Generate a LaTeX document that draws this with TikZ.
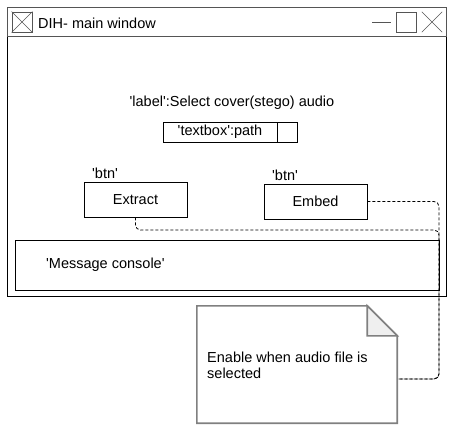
\documentclass[tikz,border=0pt]{standalone}
\usepackage{fontspec}
\setmainfont{Liberation Sans}
\usetikzlibrary{positioning}
\pgfdeclarelayer{bg}
\pgfsetlayers{bg,main}
\definecolor{frame}{HTML}{555555}
\definecolor{notegrey}{HTML}{808080}
\definecolor{foldfill}{HTML}{EFEFEF}
\newcommand{\uifont}{\fontsize{14.5pt}{16pt}\selectfont}
\newcommand{\sq}{\textquotesingle}
\tikzset{
  box/.style={draw, rectangle, inner sep=0pt, line width=0.9pt},
  txt/.style={inner sep=0pt, font=\uifont},
  link/.style={draw, dash pattern=on 3pt off 2pt, line width=0.8pt, rounded corners=5pt},
}

\begin{document}
\begin{tikzpicture}[x=1pt, y=-1pt]
        \useasboundingbox (0,0) rectangle (462,428);
        % main window
        \node (win) [box, draw=black, minimum width=439pt, minimum height=289pt] at (226.5,151.5) {};
        \node (bar) [box, draw=frame, minimum width=439pt, minimum height=29pt] at (226.5,21.5) {};
        \node (icon) [box, draw=frame, minimum size=20pt] at (22,22) {};
        \draw [frame] (icon.north west) -- (icon.south east) (icon.north east) -- (icon.south west);
        \node (title) [txt, anchor=west] at (38,23) {DIH- main window};
        \coordinate (minL) at (372,22);
        \coordinate (minR) at (391,22);
        \draw [frame, line width=0.9pt] (minL) -- (minR);
        \node (maxbox) [box, draw=frame, minimum size=20pt] at (406,22) {};
        \node (closebox) [inner sep=0pt, minimum size=20pt] at (432,22) {};
        \draw [frame] (closebox.north west) -- (closebox.south east) (closebox.north east) -- (closebox.south west);
        % cover selection
        \node (lbl) [txt] at (232,103) {\sq label\sq:Select cover(stego) audio};
        \node (path) [box, minimum width=114pt, minimum height=20pt, font=\uifont] at (220,132) {\sq textbox\sq:path};
        \node (browse) [box, minimum width=20pt, minimum height=20pt] at (287,132) {};
        % buttons
        \node (btnExtract) [box, minimum width=103pt, minimum height=35pt, font=\uifont] at (135.5,199.5) {Extract};
        \node (btnExtractTag) [txt, anchor=west] at (92,173) {\sq btn\sq};
        \node (btnEmbed) [box, minimum width=103pt, minimum height=35pt, font=\uifont] at (315.5,201.5) {Embed};
        \node (btnEmbedTag) [txt, anchor=west] at (272,175) {\sq btn\sq};
        % console
        \node (console) [box, minimum width=424pt, minimum height=50pt] at (227,265) {};
        \node (consoleTxt) [txt, anchor=west] at (46,265) {\sq Message console\sq};
        % note
        \node (note) [inner sep=0pt, minimum width=200pt, minimum height=117pt] at (297,364.5) {};
        \draw [notegrey, line width=1.6pt, fill=white] (note.north west) -- ([xshift=-30pt]note.north east) -- ([yshift=-30pt]note.north east) -- (note.south east) -- (note.south west) -- cycle;
        \draw [notegrey, line width=1.6pt, fill=foldfill] ([xshift=-30pt]note.north east) -- ([yshift=-30pt]note.north east) -- ([xshift=-30pt,yshift=-30pt]note.north east) -- cycle;
        \node (noteTxt) [txt, anchor=west, align=left] at (207,365) {Enable when audio file is\\selected};
        \coordinate (rail) at (439,230);
        \coordinate (noteIn) at (397,379);
        \begin{pgfonlayer}{bg}
                \draw [link] (btnExtract.south) |- (rail) |- (noteIn);
                \draw [link] (btnEmbed.east) -| (rail) |- (noteIn);
        \end{pgfonlayer}
\end{tikzpicture}
\end{document}
